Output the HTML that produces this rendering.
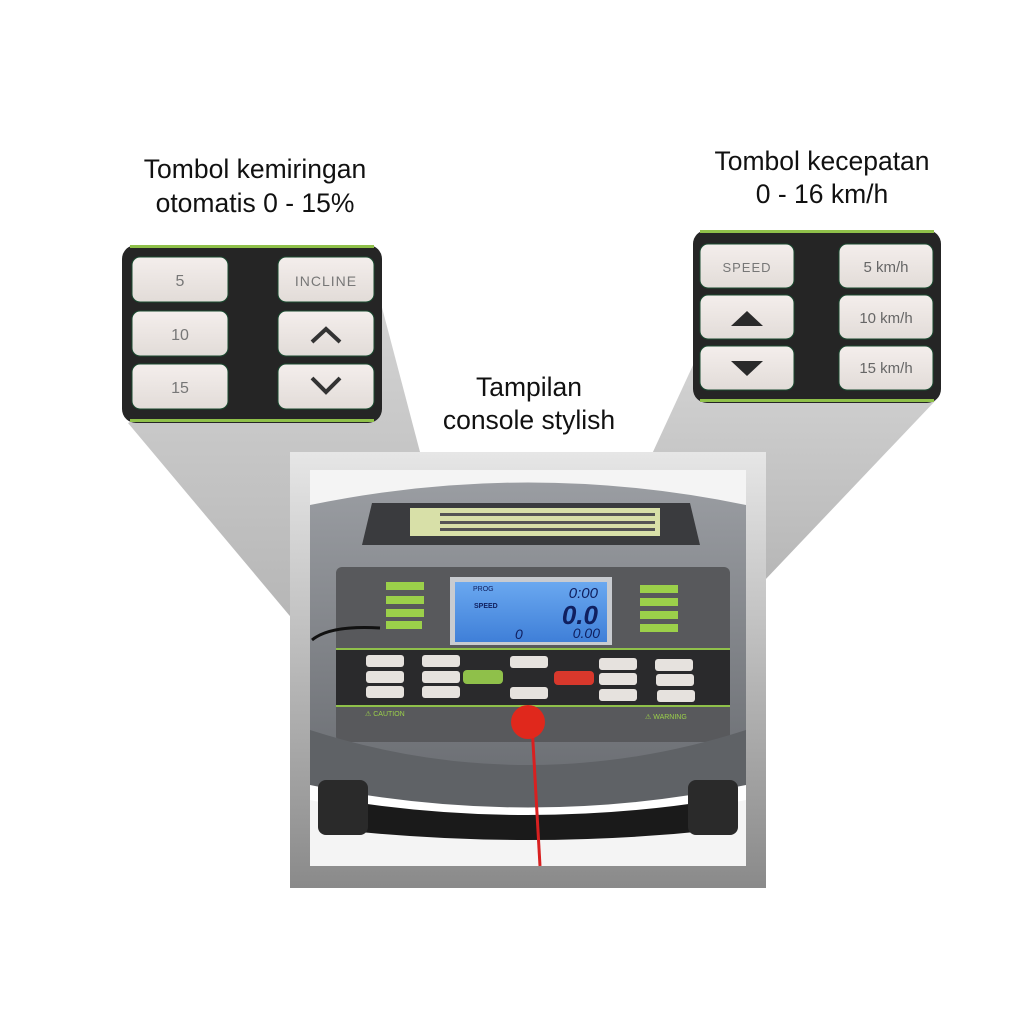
<!DOCTYPE html>
<html><head><meta charset="utf-8"><style>
html,body{margin:0;padding:0;background:#fff;}
svg{display:block}
text{font-family:"Liberation Sans",sans-serif;}
</style></head><body>
<svg width="1024" height="1024" viewBox="0 0 1024 1024" xmlns="http://www.w3.org/2000/svg">
<defs>
<linearGradient id="fl" x1="0" y1="0" x2="0" y2="1"><stop offset="0" stop-color="#d4d4d4"/><stop offset="1" stop-color="#b4b4b4"/></linearGradient>
<linearGradient id="frame" x1="0" y1="0" x2="0" y2="1"><stop offset="0" stop-color="#e6e6e6"/><stop offset="1" stop-color="#8a8a8a"/></linearGradient>
<linearGradient id="btn" x1="0" y1="0" x2="0" y2="1"><stop offset="0" stop-color="#f4eeec"/><stop offset="1" stop-color="#e2dcd8"/></linearGradient>
<linearGradient id="lcd" x1="0" y1="0" x2="0" y2="1"><stop offset="0" stop-color="#6aa8f0"/><stop offset="1" stop-color="#3f7fd8"/></linearGradient>
<linearGradient id="body" x1="0" y1="0" x2="0" y2="1"><stop offset="0" stop-color="#9a9da2"/><stop offset="1" stop-color="#6a6d72"/></linearGradient>
</defs>
<polygon points="128,423 380,300 430,490 310,640" fill="url(#fl)"/>
<polygon points="700,350 936,400 746,600 640,480" fill="url(#fl)"/>
<rect x="290" y="452" width="476" height="436" fill="url(#frame)"/>
<rect x="310" y="470" width="436" height="396" fill="#f4f4f4"/>
<path d="M310,505 Q528,460 746,505 L746,790 L310,790 Z" fill="url(#body)"/>
<path d="M372,503 L690,503 L700,545 L362,545 Z" fill="#3a3b3e"/>
<rect x="410" y="508" width="250" height="28" fill="#d8e0a8"/>
<g fill="#555">
<rect x="440" y="513" width="215" height="3"/><rect x="440" y="521" width="215" height="3"/><rect x="440" y="528" width="215" height="3"/>
</g>
<rect x="336" y="567" width="394" height="175" rx="6" fill="#58595c"/>
<rect x="336" y="650" width="394" height="55" fill="#2a2a2c"/>
<rect x="336" y="648" width="394" height="2" fill="#8fc04a"/>
<rect x="336" y="705" width="394" height="2" fill="#8fc04a"/>
<rect x="450" y="577" width="162" height="68" fill="#c8cbd0"/>
<rect x="455" y="582" width="152" height="60" fill="url(#lcd)"/>
<text x="598" y="598" font-size="15" font-style="italic" fill="#102060" text-anchor="end">0:00</text>
<text x="598" y="624" font-size="26" font-style="italic" font-weight="bold" fill="#102060" text-anchor="end">0.0</text>
<text x="600" y="638" font-size="14" font-style="italic" fill="#102060" text-anchor="end">0.00</text>
<text x="515" y="639" font-size="14" font-style="italic" fill="#102060">0</text>
<text x="473" y="591" font-size="7" fill="#102060">PROG</text>
<text x="474" y="608" font-size="7" font-weight="bold" fill="#102060">SPEED</text>
<g fill="#9bd04a">
<rect x="386" y="582" width="38" height="8"/><rect x="386" y="596" width="38" height="8"/><rect x="386" y="609" width="38" height="8"/><rect x="386" y="621" width="36" height="8"/>
<rect x="640" y="585" width="38" height="8"/><rect x="640" y="598" width="38" height="8"/><rect x="640" y="611" width="38" height="8"/><rect x="640" y="624" width="38" height="8"/>
</g>
<g fill="#e6e2de">
<rect x="366" y="655" width="38" height="12" rx="3"/><rect x="366" y="671" width="38" height="12" rx="3"/><rect x="366" y="686" width="38" height="12" rx="3"/>
<rect x="422" y="655" width="38" height="12" rx="3"/><rect x="422" y="671" width="38" height="12" rx="3"/><rect x="422" y="686" width="38" height="12" rx="3"/>
<rect x="510" y="656" width="38" height="12" rx="3"/><rect x="510" y="687" width="38" height="12" rx="3"/>
<rect x="599" y="658" width="38" height="12" rx="3"/><rect x="599" y="673" width="38" height="12" rx="3"/><rect x="599" y="689" width="38" height="12" rx="3"/>
<rect x="655" y="659" width="38" height="12" rx="3"/><rect x="656" y="674" width="38" height="12" rx="3"/><rect x="657" y="690" width="38" height="12" rx="3"/>
</g>
<rect x="463" y="670" width="40" height="14" rx="4" fill="#8fc04a"/>
<rect x="554" y="671" width="40" height="14" rx="4" fill="#d8382c"/>
<text x="365" y="716" font-size="7" fill="#9bd04a">⚠ CAUTION</text>
<text x="645" y="719" font-size="7" fill="#9bd04a">⚠ WARNING</text>
<path d="M310,730 Q528,800 746,730 L746,790 Q528,840 310,790 Z" fill="#5f6266"/>
<path d="M310,785 Q528,830 746,785 L746,800 Q528,845 310,800 Z" fill="#fff"/>
<path d="M340,800 Q528,830 716,800 L716,830 Q528,850 340,830 Z" fill="#1a1a1a"/>
<rect x="318" y="780" width="50" height="55" rx="8" fill="#2a2a2a"/>
<rect x="688" y="780" width="50" height="55" rx="8" fill="#2a2a2a"/>
<line x1="532" y1="725" x2="540" y2="866" stroke="#d82020" stroke-width="3"/>
<circle cx="528" cy="722" r="17" fill="#e0281c"/>
<path d="M312,640 Q330,625 380,628" fill="none" stroke="#111" stroke-width="3"/>
<rect x="122" y="245" width="260" height="178" rx="14" fill="#252525"/>
<rect x="130" y="245" width="244" height="3" fill="#8fc04a"/>
<rect x="130" y="419" width="244" height="3" fill="#8fc04a"/>
<g fill="url(#btn)" stroke="#1a4a30" stroke-width="1">
<rect x="132" y="257" width="96" height="45" rx="8"/><rect x="132" y="311" width="96" height="45" rx="8"/><rect x="132" y="364" width="96" height="45" rx="8"/>
<rect x="278" y="257" width="96" height="45" rx="8"/><rect x="278" y="311" width="96" height="45" rx="8"/><rect x="278" y="364" width="96" height="45" rx="8"/>
</g>
<g font-size="16" fill="#777" text-anchor="middle">
<text x="180" y="286">5</text><text x="180" y="340">10</text><text x="180" y="393">15</text>
<text x="326" y="286" font-size="14" letter-spacing="1">INCLINE</text>
</g>
<polyline points="312,342 326,329 340,342" fill="none" stroke="#333" stroke-width="4"/>
<polyline points="312,378 326,392 340,378" fill="none" stroke="#333" stroke-width="4"/>
<rect x="693" y="230" width="248" height="173" rx="14" fill="#252525"/>
<rect x="700" y="230" width="234" height="3" fill="#8fc04a"/>
<rect x="700" y="399" width="234" height="3" fill="#8fc04a"/>
<g fill="url(#btn)" stroke="#1a4a30" stroke-width="1">
<rect x="700" y="244" width="94" height="44" rx="8"/><rect x="700" y="295" width="94" height="44" rx="8"/><rect x="700" y="346" width="94" height="44" rx="8"/>
<rect x="839" y="244" width="94" height="44" rx="8"/><rect x="839" y="295" width="94" height="44" rx="8"/><rect x="839" y="346" width="94" height="44" rx="8"/>
</g>
<text x="747" y="272" font-size="13" fill="#777" text-anchor="middle" letter-spacing="1">SPEED</text>
<polygon points="731,326 747,311 763,326" fill="#2a2a2a"/>
<polygon points="731,361 747,376 763,361" fill="#2a2a2a"/>
<g font-size="15" fill="#666" text-anchor="middle">
<text x="886" y="272">5 km/h</text><text x="886" y="323">10 km/h</text><text x="886" y="373">15 km/h</text>
</g>
<g font-size="26.5" fill="#111" text-anchor="middle">
<text x="255" y="178">Tombol kemiringan</text>
<text x="255" y="212">otomatis 0 - 15%</text>
<text x="822" y="170">Tombol kecepatan</text>
<text x="822" y="203">0 - 16 km/h</text>
<text x="529" y="396">Tampilan</text>
<text x="529" y="429">console stylish</text>
</g>
</svg>
</body></html>
